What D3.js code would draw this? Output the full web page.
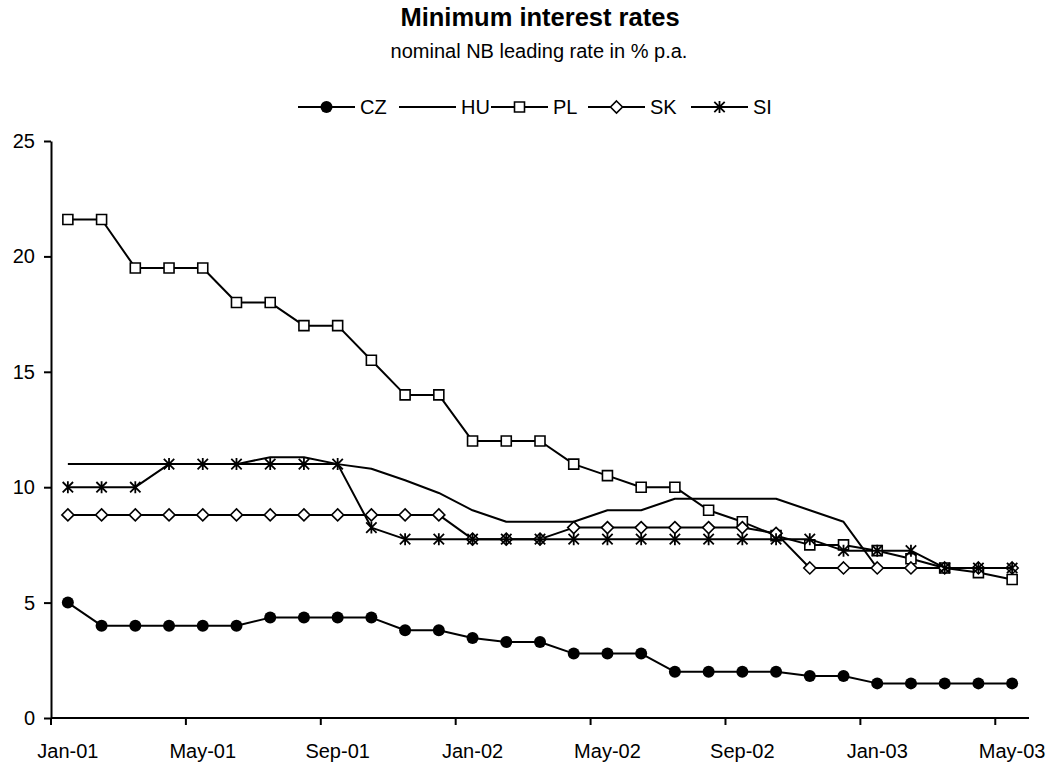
<!DOCTYPE html>
<html>
<head>
<meta charset="utf-8">
<script src="https://cdn.jsdelivr.net/npm/d3@7"></script>
<style>
  html, body { margin: 0; padding: 0; background: #fff; }
  svg { display: block; }
  text { font-family: "Liberation Sans", Arial, Helvetica, sans-serif; fill: #000; }
</style>
</head>
<body>
<svg id="chart" width="1056" height="769"></svg>
<script>
// ---------------- DATA ----------------
const months = [
  "Jan-01","Feb-01","Mar-01","Apr-01","May-01","Jun-01","Jul-01","Aug-01","Sep-01","Oct-01","Nov-01","Dec-01",
  "Jan-02","Feb-02","Mar-02","Apr-02","May-02","Jun-02","Jul-02","Aug-02","Sep-02","Oct-02","Nov-02","Dec-02",
  "Jan-03","Feb-03","Mar-03","Apr-03","May-03"
];
const tickLabels = ["Jan-01","May-01","Sep-01","Jan-02","May-02","Sep-02","Jan-03","May-03"];
const yTicks = [0, 5, 10, 15, 20, 25];
const seriesNames = ["CZ", "HU", "PL", "SK", "SI"];

const CZ = [5.0, 4.0, 4.0, 4.0, 4.0, 4.0, 4.35, 4.35, 4.35, 4.35, 3.8, 3.8,
            3.47, 3.29, 3.29, 2.79, 2.79, 2.79, 2.0, 2.0, 2.0, 2.0, 1.82, 1.82,
            1.5, 1.5, 1.5, 1.5, 1.5];
const HU = [11.0, 11.0, 11.0, 11.0, 11.0, 11.0, 11.3, 11.3, 11.0, 10.8, 10.3, 9.75,
            9.0, 8.5, 8.5, 8.5, 9.0, 9.0, 9.5, 9.5, 9.5, 9.5, 9.0, 8.5,
            6.5, 6.5, 6.5, 6.5, 6.5];
const PL = [21.6, 21.6, 19.5, 19.5, 19.5, 18.0, 18.0, 17.0, 17.0, 15.5, 14.0, 14.0,
            12.0, 12.0, 12.0, 11.0, 10.5, 10.0, 10.0, 9.0, 8.5, 7.9, 7.5, 7.5,
            7.25, 6.9, 6.5, 6.3, 6.0];
const SK = [8.8, 8.8, 8.8, 8.8, 8.8, 8.8, 8.8, 8.8, 8.8, 8.8, 8.8, 8.8,
            7.75, 7.75, 7.75, 8.25, 8.25, 8.25, 8.25, 8.25, 8.25, 8.0, 6.5, 6.5,
            6.5, 6.5, 6.5, 6.5, 6.5];
const SI = [10.0, 10.0, 10.0, 11.0, 11.0, 11.0, 11.0, 11.0, 11.0, 8.25, 7.75, 7.75,
            7.75, 7.75, 7.75, 7.75, 7.75, 7.75, 7.75, 7.75, 7.75, 7.75, 7.75, 7.25,
            7.25, 7.25, 6.5, 6.5, 6.5];

const titleText = "Minimum interest rates";
const subtitleText = "nominal NB leading rate in % p.a.";

// ---------------- LAYOUT ----------------
const svg = d3.select("#chart");
const plot = { left: 51, right: 1029, top: 141, bottom: 718 };

const x = d3.scaleBand().domain(months).range([plot.left, plot.right]).padding(0);
const y = d3.scaleLinear().domain([0, 25]).range([plot.bottom, plot.top]);
const cx = m => x(m) + x.bandwidth() / 2;

const seriesData = { CZ, HU, PL, SK, SI };
const markerType = { CZ: "circle", HU: "none", PL: "square", SK: "diamond", SI: "asterisk" };

function markerPath(type) {
  if (type === "square") { const s = 5; return `M${-s},${-s}H${s}V${s}H${-s}Z`; }
  if (type === "diamond") { const s = 6; return `M0,${-s}L${s},0L0,${s}L${-s},0Z`; }
  if (type === "asterisk") { const s = 6, d = 5.2; return `M0,${-s}V${s}M${-d},${-d}L${d},${d}M${-d},${d}L${d},${-d}`; }
  return "";
}

function drawMarker(g, type, px, py) {
  if (type === "circle") {
    g.append("circle").attr("cx", px).attr("cy", py).attr("r", 6).attr("fill", "#000");
  } else if (type === "square" || type === "diamond") {
    g.append("path").attr("d", markerPath(type)).attr("transform", `translate(${px},${py})`)
      .attr("fill", "#fff").attr("stroke", "#000").attr("stroke-width", 1.6);
  } else if (type === "asterisk") {
    g.append("path").attr("d", markerPath(type)).attr("transform", `translate(${px},${py})`)
      .attr("fill", "none").attr("stroke", "#000").attr("stroke-width", 1.8);
  }
}

// Title
svg.append("text").attr("x", 540).attr("y", 26).attr("text-anchor", "middle")
  .attr("font-size", 25.5).attr("font-weight", "bold").text(titleText);
svg.append("text").attr("x", 539).attr("y", 58).attr("text-anchor", "middle")
  .attr("font-size", 20).text(subtitleText);

// Legend
const legendY = 107;
const legendStarts = [298, 399, 491, 588, 691];
const legendLineLen = 57;
const lg = svg.append("g");
seriesNames.forEach((name, i) => {
  const x0 = legendStarts[i];
  lg.append("line").attr("x1", x0).attr("x2", x0 + legendLineLen)
    .attr("y1", legendY).attr("y2", legendY).attr("stroke", "#000").attr("stroke-width", 2);
  drawMarker(lg, markerType[name], x0 + legendLineLen / 2, legendY);
  lg.append("text").attr("x", x0 + legendLineLen + 5).attr("y", legendY + 7)
    .attr("font-size", 20).text(name);
});

// Y axis
const yAxis = svg.append("g").attr("transform", `translate(${plot.left},0)`)
  .call(d3.axisLeft(y).tickValues(yTicks).tickSize(7).tickSizeOuter(0).tickPadding(9));
yAxis.select(".domain").attr("stroke", "#000").attr("stroke-width", 2);
yAxis.selectAll(".tick line").attr("stroke", "#000").attr("stroke-width", 2);
yAxis.selectAll("text").attr("font-size", 20).attr("font-family", "Liberation Sans, Arial, sans-serif");

// X axis
const xg = svg.append("g");
xg.append("line").attr("x1", plot.left).attr("x2", plot.right)
  .attr("y1", plot.bottom).attr("y2", plot.bottom).attr("stroke", "#000").attr("stroke-width", 2);
tickLabels.forEach(m => {
  xg.append("line").attr("x1", x(m)).attr("x2", x(m))
    .attr("y1", plot.bottom).attr("y2", plot.bottom + 7).attr("stroke", "#000").attr("stroke-width", 2);
  xg.append("text").attr("x", cx(m)).attr("y", 758).attr("text-anchor", "middle")
    .attr("font-size", 20).text(m);
});

// Series
const line = d3.line().x((d, i) => cx(months[i])).y(d => y(d));
seriesNames.forEach(name => {
  const vals = seriesData[name];
  const g = svg.append("g");
  g.append("path").attr("d", line(vals)).attr("fill", "none")
    .attr("stroke", "#000").attr("stroke-width", 2).attr("stroke-linejoin", "round");
  vals.forEach((v, i) => drawMarker(g, markerType[name], cx(months[i]), y(v)));
});
</script>
</body>
</html>
